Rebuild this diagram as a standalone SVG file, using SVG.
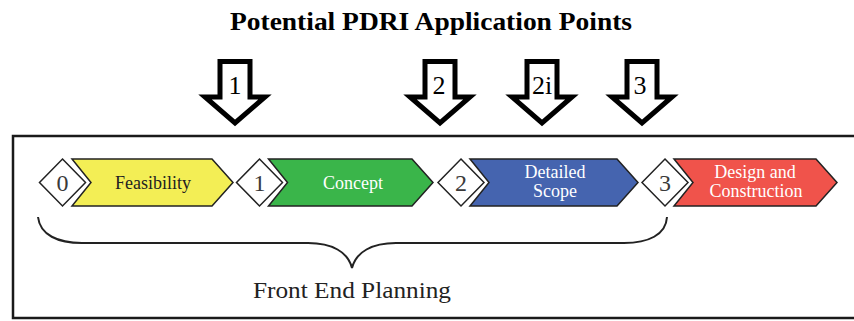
<svg xmlns="http://www.w3.org/2000/svg" width="854" height="321" viewBox="0 0 854 321">
  <defs>
    <style>
      .title { font-family: "Liberation Serif", "Times New Roman", serif; font-weight: bold; font-size: 25px; fill: #000; }
      .frame { fill: none; stroke: #1a1a1a; stroke-width: 2.5; }
      .marker { fill: #fff; stroke: #000; stroke-width: 5; stroke-linejoin: miter; }
      .marker-num { font-family: "Liberation Serif", "Times New Roman", serif; font-size: 26px; fill: #000; text-anchor: middle; }
      .stage { stroke: #222; stroke-width: 1.5; stroke-linejoin: miter; }
      .gate { fill: #fff; stroke: #222; stroke-width: 1.5; }
      .gate-num { font-family: "Liberation Serif", "Times New Roman", serif; font-size: 24px; fill: #3a3a3a; text-anchor: middle; }
      .label { font-family: "Liberation Serif", "Times New Roman", serif; font-size: 18px; text-anchor: middle; }
      .brace { fill: none; stroke: #222; stroke-width: 2; }
      .caption { font-family: "Liberation Serif", "Times New Roman", serif; font-size: 24px; fill: #222; text-anchor: middle; }
    </style>
  </defs>

  <rect width="854" height="321" fill="#fff"/>

  <text class="title" x="431" y="30" text-anchor="middle" textLength="402" lengthAdjust="spacingAndGlyphs">Potential PDRI Application Points</text>

  <!-- outer frame (right side runs past the canvas) -->
  <rect id="frame" class="frame" x="13" y="136" width="860" height="182"/>

  <!-- application point markers -->
  <g id="marker-1">
    <path class="marker" d="M220,61.5 L250,61.5 L250,97 L265,97 L235,123 L205,97 L220,97 Z"/>
    <text class="marker-num" x="235" y="94">1</text>
  </g>
  <g id="marker-2">
    <path class="marker" d="M425,61.5 L455,61.5 L455,97 L470,97 L440,123 L410,97 L425,97 Z"/>
    <text class="marker-num" x="439" y="94">2</text>
  </g>
  <g id="marker-2i">
    <path class="marker" d="M527,61.5 L557,61.5 L557,97 L572,97 L542,123 L512,97 L527,97 Z"/>
    <text class="marker-num" x="542" y="94">2i</text>
  </g>
  <g id="marker-3">
    <path class="marker" d="M627,61.5 L657,61.5 L657,97 L672,97 L642,123 L612,97 L627,97 Z"/>
    <text class="marker-num" x="640" y="94">3</text>
  </g>

  <!-- phase stages -->
  <g id="stage-feasibility">
    <path class="stage" fill="#F3EE55" d="M72,159 L212,159 L233,182.5 L212,206 L72,206 L91,182.5 Z"/>
    <text class="label" x="153" y="189" fill="#222">Feasibility</text>
  </g>
  <g id="stage-concept">
    <path class="stage" fill="#3AB54A" d="M268.5,159 L412,159 L433,182.5 L412,206 L268.5,206 L287.5,182.5 Z"/>
    <text class="label" x="353" y="189" fill="#fff">Concept</text>
  </g>
  <g id="stage-detailed-scope">
    <path class="stage" fill="#4564AF" d="M470,159 L617,159 L638,182.5 L617,206 L470,206 L489,182.5 Z"/>
    <text class="label" x="555" y="178" fill="#fff">Detailed</text>
    <text class="label" x="555" y="197" fill="#fff">Scope</text>
  </g>
  <g id="stage-design-construction">
    <path class="stage" fill="#F0534B" d="M674,159 L816,159 L837,182.5 L816,206 L674,206 L693,182.5 Z"/>
    <text class="label" x="755" y="178" fill="#fff">Design and</text>
    <text class="label" x="756" y="197" fill="#fff">Construction</text>
  </g>

  <!-- gates -->
  <g id="gate-0">
    <path class="gate" d="M62.5,159 L85.5,182.5 L62.5,206 L39.5,182.5 Z"/>
    <text class="gate-num" x="62.5" y="191">0</text>
  </g>
  <g id="gate-1">
    <path class="gate" d="M259.5,159 L282.5,182.5 L259.5,206 L236.5,182.5 Z"/>
    <text class="gate-num" x="259.5" y="191">1</text>
  </g>
  <g id="gate-2">
    <path class="gate" d="M461,159 L484,182.5 L461,206 L438,182.5 Z"/>
    <text class="gate-num" x="461" y="191">2</text>
  </g>
  <g id="gate-3">
    <path class="gate" d="M665,159 L688,182.5 L665,206 L642,182.5 Z"/>
    <text class="gate-num" x="665" y="191">3</text>
  </g>

  <!-- front end planning span -->
  <g id="front-end-planning">
    <path class="brace" d="M38,217 C40,235 58,243 82,243 L308,243 C332,243 348,252 352,268 C356,252 372,243 396,243 L624,243 C648,243 666,235 667,217"/>
    <text class="caption" x="352" y="298" textLength="198" lengthAdjust="spacingAndGlyphs">Front End Planning</text>
  </g>
</svg>
